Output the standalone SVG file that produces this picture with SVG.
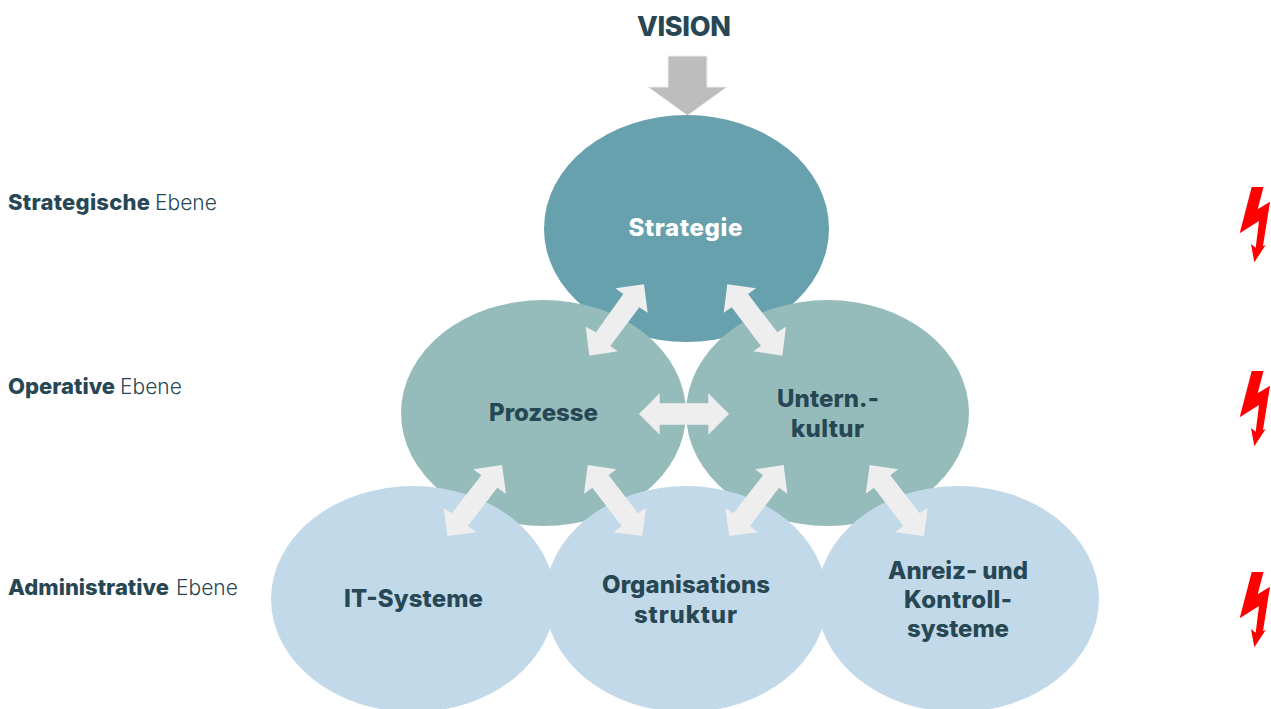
<svg xmlns="http://www.w3.org/2000/svg" width="1271" height="709" viewBox="0 0 1271 709">
<style>
text{font-family:"Inter","Liberation Sans",sans-serif;fill:#274754}
.n{font-size:24px;font-weight:800;text-anchor:start}
.l{font-size:21px;font-weight:300}
.l .s{font-size:22px;font-weight:800}
.a{fill:#eeeeee}
.b{fill:#ff0000}
</style>
<defs><polygon id="bolt" class="b" points="1251.7,187 1263.5,187 1257.7,209.3 1270,201.7 1263,246 1265.7,245 1254.3,262.3 1251,244 1255.7,247.7 1259,221 1239.7,233.3"/></defs>
<rect width="1271" height="709" fill="#fff"/>
<g id="vision"><text x="637" y="35.500" textLength="94" style="font-size:27px;font-weight:800">VISION</text></g>
<g id="vision-arrow"><polygon points="668,56 707,56 707,87 727,87 687.5,115.500 648,87 668,87" fill="#bdbdbd" stroke="#eeeeee" stroke-width="1"/></g>
<g id="strategie"><ellipse cx="686.500" cy="228.500" rx="142.500" ry="113.500" fill="#68a1ae"/><text class="n" x="628.500" y="236" textLength="114" style="fill:#fff">Strategie</text></g>
<g id="prozesse"><ellipse cx="543.500" cy="413" rx="142.500" ry="113" fill="#95bcba"/><text class="n" x="489" y="421" textLength="109">Prozesse</text></g>
<g id="kultur"><ellipse cx="827.500" cy="413" rx="141.500" ry="113" fill="#95bcba"/><text class="n" x="777" y="407" textLength="102">Untern.-</text><text class="n" x="791" y="437" textLength="73">kultur</text></g>
<g id="it"><ellipse cx="413" cy="599" rx="142" ry="113" fill="#c1d9e8"/><text class="n" x="344" y="607" textLength="139">IT-Systeme</text></g>
<g id="orga"><ellipse cx="686" cy="599" rx="141" ry="113" fill="#c1d9e8"/><text class="n" x="602" y="593" textLength="168">Organisations</text><text class="n" x="634" y="623" textLength="103">struktur</text></g>
<g id="anreiz"><ellipse cx="958" cy="599" rx="141" ry="113" fill="#c1d9e8"/><text class="n" x="888" y="579" textLength="140">Anreiz- und</text><text class="n" x="904" y="608" textLength="108">Kontroll-</text><text class="n" x="907" y="637" textLength="102">systeme</text></g>
<g id="connectors">
<polygon class="a" points="644,284.300 647.700,312.700 639.300,307.300 610.300,346 617.700,351.300 589.300,355.700 585.700,326.700 596,332.300 623.300,294 615.300,288.300"/>
<polygon class="a" points="727.300,284.300 756,288.300 748,294 777.300,332.300 786,326.700 782.300,355.700 753.300,351.300 761,346 731.700,307.300 723.700,312.700"/>
<polygon class="a" points="639,414 659.700,393.300 659.700,403.300 708.300,403.300 708.300,393.300 729,414 708.300,434.700 708.300,424.700 659.700,424.700 659.700,434.700"/>
<polygon class="a" points="502,465 506,493.700 497.300,487.700 468,526 476,532.300 447.300,536 443.700,508 451.700,513.300 481.300,475.300 473.300,469.300"/>
<polygon class="a" points="587.700,465 616.300,469.300 608.700,475.300 638,513.300 646,508 642.300,536 613.700,532.300 621.700,526 592.300,487.700 584,493.700"/>
<polygon class="a" points="783.700,465 787.300,493.700 779,487.700 750,526 757.700,532.300 729.300,536 725.300,508 733.300,513.300 763,475.300 755,469.300"/>
<polygon class="a" points="869.700,465 898.300,469.300 890.300,475.300 919.700,513.300 927.700,508 924,536 895.300,532.300 903.300,526 874,487.700 865.700,493.700"/>
</g>
<g id="label-strategisch"><text class="l" x="8" y="209.500"><tspan class="s" style="letter-spacing:.25px">Strategische</tspan> <tspan x="155">Ebene</tspan></text></g>
<g id="label-operativ"><text class="l" x="8" y="393.500"><tspan class="s">Operative</tspan> <tspan x="120">Ebene</tspan></text></g>
<g id="label-administrativ"><text class="l" x="8" y="594.500"><tspan class="s">Administrative</tspan> <tspan x="176">Ebene</tspan></text></g>
<g id="blitz-1"><use href="#bolt"/></g>
<g id="blitz-2"><use href="#bolt" y="184"/></g>
<g id="blitz-3"><use href="#bolt" y="385"/></g>
</svg>
